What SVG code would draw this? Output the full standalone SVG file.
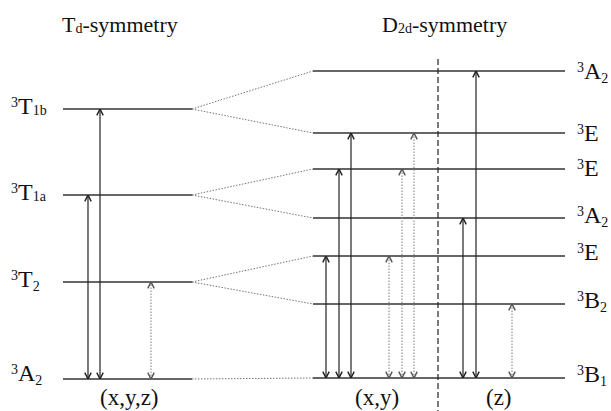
<svg xmlns="http://www.w3.org/2000/svg" width="611" height="411" viewBox="0 0 611 411">
<style>
text{font-family:"Liberation Serif","Times New Roman",serif;fill:#111}
.t{font-size:22px}
.l{font-size:24px}
.b{font-size:23px}
.sup{font-size:14px}
.sub{font-size:14px}
.lev{stroke:#333;stroke-width:1.3;fill:none}
.cor{stroke:#777;stroke-width:1;stroke-dasharray:1.5 1.5;fill:none}
.arr{stroke:#222;stroke-width:1.2;fill:none;marker-start:url(#ah);marker-end:url(#ah)}
.darr{stroke:#888;stroke-width:1.1;stroke-dasharray:1.5 1.5;fill:none;marker-start:url(#ahg);marker-end:url(#ahg)}
.dash{stroke:#222;stroke-width:1.2;stroke-dasharray:6 3;fill:none}
</style>
<defs>
<marker id="ah" viewBox="0 0 10 10" refX="10" refY="5" markerWidth="8" markerHeight="8" markerUnits="userSpaceOnUse" orient="auto-start-reverse">
<path d="M2,1 L10,5 L2,9" fill="none" stroke="#222" stroke-width="1.8"/>
</marker>
<marker id="ahg" viewBox="0 0 10 10" refX="10" refY="5" markerWidth="8" markerHeight="8" markerUnits="userSpaceOnUse" orient="auto-start-reverse">
<path d="M2,1 L10,5 L2,9" fill="none" stroke="#555" stroke-width="1.8"/>
</marker>
</defs>
<g id="titles">
<text class="t" x="62" y="32">T<tspan class="sub" dy="1">d</tspan><tspan dy="-1">-symmetry</tspan></text>
<text class="t" x="382" y="32">D<tspan class="sub" dy="1">2d</tspan><tspan dy="-1">-symmetry</tspan></text>
</g>
<g id="td-T1b"><line class="lev" x1="63" y1="109" x2="192" y2="109"/><text class="l" x="11" y="114"><tspan class="sup" dy="-7">3</tspan><tspan dy="7">T</tspan><tspan class="sub" dy="1">1b</tspan></text></g>
<g id="td-T1a"><line class="lev" x1="63" y1="195" x2="192" y2="195"/><text class="l" x="11" y="200"><tspan class="sup" dy="-7">3</tspan><tspan dy="7">T</tspan><tspan class="sub" dy="1">1a</tspan></text></g>
<g id="td-T2"><line class="lev" x1="63" y1="282" x2="192" y2="282"/><text class="l" x="11" y="287"><tspan class="sup" dy="-7">3</tspan><tspan dy="7">T</tspan><tspan class="sub" dy="4">2</tspan></text></g>
<g id="td-A2"><line class="lev" x1="63" y1="379" x2="192" y2="379"/><text class="l" x="11" y="381"><tspan class="sup" dy="-7">3</tspan><tspan dy="7">A</tspan><tspan class="sub" dy="4">2</tspan></text></g>
<g id="d2d-A2-top"><line class="lev" x1="313" y1="71" x2="565" y2="71"/><text class="l" x="577" y="79"><tspan class="sup" dy="-7">3</tspan><tspan dy="7">A</tspan><tspan class="sub" dy="4">2</tspan></text></g>
<g id="d2d-E-1"><line class="lev" x1="313" y1="133" x2="565" y2="133"/><text class="l" x="577" y="141"><tspan class="sup" dy="-7">3</tspan><tspan dy="7">E</tspan></text></g>
<g id="d2d-E-2"><line class="lev" x1="313" y1="169" x2="565" y2="169"/><text class="l" x="577" y="176"><tspan class="sup" dy="-7">3</tspan><tspan dy="7">E</tspan></text></g>
<g id="d2d-A2-mid"><line class="lev" x1="313" y1="218" x2="565" y2="218"/><text class="l" x="577" y="223"><tspan class="sup" dy="-7">3</tspan><tspan dy="7">A</tspan><tspan class="sub" dy="4">2</tspan></text></g>
<g id="d2d-E-3"><line class="lev" x1="313" y1="256" x2="565" y2="256"/><text class="l" x="577" y="260"><tspan class="sup" dy="-7">3</tspan><tspan dy="7">E</tspan></text></g>
<g id="d2d-B2"><line class="lev" x1="313" y1="304" x2="565" y2="304"/><text class="l" x="577" y="308"><tspan class="sup" dy="-7">3</tspan><tspan dy="7">B</tspan><tspan class="sub" dy="4">2</tspan></text></g>
<g id="d2d-B1"><line class="lev" x1="313" y1="378" x2="565" y2="378"/><text class="l" x="577" y="382"><tspan class="sup" dy="-7">3</tspan><tspan dy="7">B</tspan><tspan class="sub" dy="4">1</tspan></text></g>
<g id="polarisations">
<text class="b" x="100" y="405">(x,y,z)</text>
<text class="b" x="355" y="405">(x,y)</text>
<text class="b" x="486" y="405">(z)</text>
<line class="dash" x1="438" y1="59" x2="438" y2="411"/>
</g>
<g id="connectors">
<line class="cor" x1="192" y1="109" x2="313" y2="71"/>
<line class="cor" x1="192" y1="109" x2="313" y2="133"/>
<line class="cor" x1="192" y1="195" x2="313" y2="169"/>
<line class="cor" x1="192" y1="195" x2="313" y2="218"/>
<line class="cor" x1="192" y1="282" x2="313" y2="256"/>
<line class="cor" x1="192" y1="282" x2="313" y2="304"/>
<line class="cor" x1="192" y1="379" x2="313" y2="378"/>
<line class="arr" x1="88" y1="379" x2="88" y2="195"/>
<line class="arr" x1="100" y1="379" x2="100" y2="109"/>
<line class="darr" x1="151" y1="379" x2="151" y2="282"/>
<line class="arr" x1="326" y1="378" x2="326" y2="256"/>
<line class="arr" x1="339" y1="378" x2="339" y2="169"/>
<line class="arr" x1="351" y1="378" x2="351" y2="133"/>
<line class="darr" x1="389" y1="378" x2="389" y2="256"/>
<line class="darr" x1="402" y1="378" x2="402" y2="169"/>
<line class="darr" x1="414" y1="378" x2="414" y2="133"/>
<line class="arr" x1="463" y1="378" x2="463" y2="218"/>
<line class="arr" x1="476" y1="378" x2="476" y2="71"/>
<line class="darr" x1="512" y1="378" x2="512" y2="304"/>
</g>
</svg>
